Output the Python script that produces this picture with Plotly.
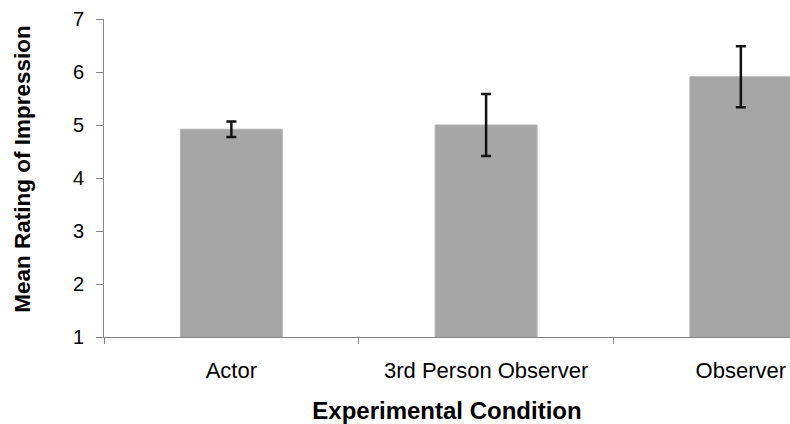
import plotly.graph_objects as go

categories = ["Actor", "3rd Person Observer", "Observer"]
means = [4.92, 5.00, 5.91]
errors = [0.145, 0.585, 0.577]
y_ticks = [1, 2, 3, 4, 5, 6, 7]

FONT = "Liberation Sans, Arial, sans-serif"
AXIS_COLOR = "#868686"

fig = go.Figure()
fig.add_trace(go.Bar(
    x=categories,
    y=means,
    width=0.4,
    marker=dict(color="#a6a6a6", line=dict(color="#b4b4b4", width=1)),
    error_y=dict(type="data", array=errors, visible=True,
                 color="#111111", thickness=2.5, width=5),
    showlegend=False,
))

fig.update_layout(
    width=790, height=424,
    margin=dict(l=104, r=0, t=19, b=87),
    paper_bgcolor="white", plot_bgcolor="white",
    font=dict(family=FONT, color="black", size=20),
    annotations=[dict(
        text="<b>Mean Rating of Impression</b>",
        textangle=-90, xref="paper", yref="paper",
        x=-0.118, y=0.529, xanchor="center", yanchor="middle",
        showarrow=False, font=dict(size=22.5),
    )],
)
fig.update_xaxes(
    type="category",
    range=[-0.5, 2.193],
    showline=True, linecolor=AXIS_COLOR, linewidth=1,
    ticks="outside", tickson="boundaries", ticklen=6, tickcolor=AXIS_COLOR,
    tickfont=dict(size=22),
    ticklabelstandoff=14,
    showgrid=False, zeroline=False,
    title=dict(text="<b>Experimental Condition</b>", font=dict(size=24), standoff=25),
)
fig.update_yaxes(
    range=[1, 7],
    tickvals=y_ticks,
    showline=True, linecolor=AXIS_COLOR, linewidth=1,
    ticks="outside", ticklen=7, tickcolor=AXIS_COLOR,
    tickfont=dict(size=20),
    ticklabelstandoff=8,
    showgrid=False, zeroline=False,
)

fig.write_html(
    "out.html",
    config={"displayModeBar": False},
    post_script="document.body.style.margin='0';document.body.style.overflow='hidden';",
)
